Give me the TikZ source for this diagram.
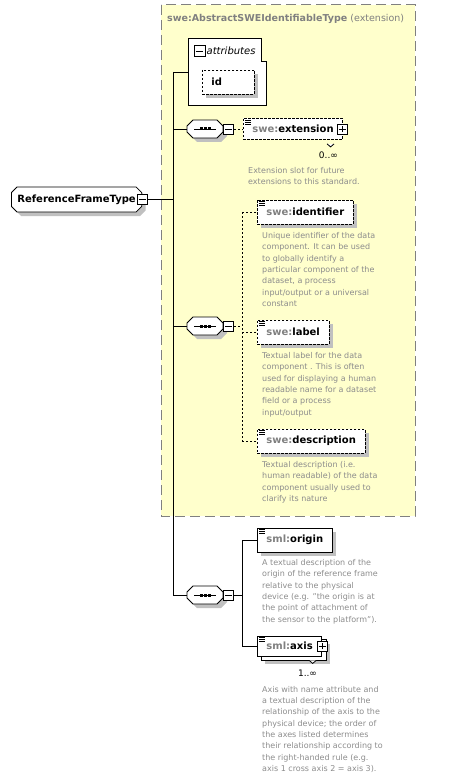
\documentclass[tikz,border=0pt]{standalone}
\usepackage{fontspec}
\setmainfont{DejaVu Sans}
\usetikzlibrary{positioning,shapes.misc,shadows}

\definecolor{extyellow}{RGB}{255,255,204}
\definecolor{extgray}{RGB}{128,128,128}
\definecolor{docgray}{RGB}{140,140,140}
\definecolor{shadowgray}{RGB}{192,192,192}

\pgfdeclarelayer{behind}
\pgfsetlayers{behind,main}

% small marks drawn inside nodes
\newcommand{\minusmark}[1]{\draw ([xshift=2pt]#1.west) -- ([xshift=-2pt]#1.east);}
\newcommand{\plusmark}[1]{\minusmark{#1}\draw ([yshift=2pt]#1.south) -- ([yshift=-2pt]#1.north);}
\newcommand{\simpleicon}[1]{%
  \foreach \dy in {2,4,6}
    \draw[line width=0.7pt] ([xshift=2pt,yshift=-\dy pt]#1.north west) -- ++(6,0);}
\def\octpath{(-18,-3) -- (-12,-9) -- (12,-9) -- (18,-3) -- (18,3) -- (12,9) -- (-12,9) -- (-18,3) -- cycle}
\newcommand{\seqshape}[1]{%
  \begin{scope}[shift={(#1.center)}]
    \fill[shadowgray, shift={(4,4)}] \octpath;
    \filldraw[line width=0.8pt, fill=white] \octpath;
    \draw (-11,0) -- (11,0);
    \foreach \dx in {-4,0,4}
      \fill (\dx-1.5,-1.5) rectangle ++(3,3);
  \end{scope}}

\begin{document}
\begin{tikzpicture}[x=1pt, y=-1pt,
    every node/.style={font=\fontsize{10}{12}\selectfont},
    boxshadow/.style={drop shadow={shadow xshift=4pt, shadow yshift=-4pt, fill=shadowgray, opacity=1}},
    optdash/.style={dash pattern=on 2.5pt off 1.5pt},
    box/.style={draw, fill=white, line width=0.8pt, minimum height=24pt,
        inner xsep=9pt, inner ysep=0pt, anchor=west,
        font=\fontsize{10}{12}\selectfont\bfseries},
    elem/.style={box, boxshadow},
    optelem/.style={elem, optdash},
    backbox/.style={draw, fill=white, line width=0.8pt, boxshadow},
    compositor/.style={minimum width=36pt, minimum height=18pt, inner sep=0pt},
    pmbox/.style={draw, fill=white, line width=0.9pt, minimum size=10pt, inner sep=0pt},
    doc/.style={anchor=north west, align=left, inner sep=0pt, text=docgray,
        font=\fontsize{8}{11.3}\selectfont},
    occurs/.style={anchor=north east, inner sep=0pt, font=\fontsize{9}{11}\selectfont},
    link/.style={line width=0.8pt},
    optlink/.style={link, dash pattern=on 2pt off 2pt}
]
\useasboundingbox (0,0) rectangle (458,778);

% extension base type
\draw[draw=extgray, fill=extyellow, line width=1pt, dash pattern=on 10pt off 5pt]
    (161,5) rectangle (415,516);
\node[anchor=west, inner sep=0pt, text=extgray, font=\fontsize{9.5}{12}\selectfont] (exthead) at (167,19)
    {\textbf{swe:AbstractSWEIdentifiableType} (extension)};

% attributes group
\node[inner sep=0pt, minimum width=78pt, minimum height=67pt, anchor=north west] (attr) at (188,38) {};
\filldraw[link, fill=white] (attr.north west) -- ([xshift=-5pt]attr.north east) -- ++(0,23)
    -- ([yshift=-23pt]attr.north east) -- (attr.south east) -- (attr.south west) -- cycle;
\node[pmbox, minimum size=11pt] (attrm) at (199.5,51) {};
\minusmark{attrm}
\node[right=1pt of attrm, inner sep=0pt, font=\fontsize{10}{12}\selectfont\itshape] (attrlabel) {attributes};
\node[optelem, text width=34pt] (idattr) at (202,82) {id};

% root
\node[chamfered rectangle, chamfered rectangle xsep=2pt, draw, fill=white, line width=0.8pt,
    minimum height=25pt, anchor=west, inner xsep=4pt, boxshadow,
    font=\fontsize{10}{12}\selectfont\bfseries] (root) at (11,199.5) {ReferenceFrameType\hspace{9pt}};
\node[pmbox] (rootm) at (root.east) {};
\minusmark{rootm}
\coordinate (trunk) at (173,72);
\draw[link] (trunk) -- (attr.west |- trunk);
\draw[link] (rootm.east) -- (rootm.east -| trunk);

% first sequence: extension
\node[compositor] (seq1) at (205,129) {};
\seqshape{seq1}
\node[pmbox, anchor=west] (seq1m) at (seq1.east) {};
\minusmark{seq1m}
\draw[link] (trunk |- seq1.west) -- (seq1.west);
\node[box, optdash, minimum height=21pt] (extn) at (243,129)
    {\textcolor{extgray}{swe:}extension\hspace{5pt}};
\coordinate (extnback) at ([shift={(4pt,-4pt)}]extn.south east);
\begin{pgfonlayer}{behind}
  \draw[backbox, optdash] ([shift={(4pt,-4pt)}]extn.north west) rectangle (extnback);
\end{pgfonlayer}
\draw[link, fill=white] ([xshift=-20pt]extnback) -- ++(3.5,3) -- ++(3.5,-3);
\simpleicon{extn}
\node[pmbox] (extnp) at ([xshift=-1pt]extn.east) {};
\plusmark{extnp}
\draw[optlink] (seq1m.east) -- (extn.west);
\node[occurs] (extnocc) at ([shift={(-9pt,-8pt)}]extnback) {0..∞};
\node[doc] (extndoc) at (248,167) {Extension slot for future\\extensions to this standard.};

% second sequence: identifier, label, description
\node[compositor] (seq2) at (205,326) {};
\seqshape{seq2}
\node[pmbox, anchor=west] (seq2m) at (seq2.east) {};
\minusmark{seq2m}
\draw[link] (trunk |- seq2.west) -- (seq2.west);
\coordinate (br2) at (242,326);
\draw[optlink] (seq2m.east) -- (br2);
\node[optelem] (ident) at (257,212) {\textcolor{extgray}{swe:}identifier};
\node[optelem] (lbl) at (257,332) {\textcolor{extgray}{swe:}label};
\node[optelem] (descr) at (257,441) {\textcolor{extgray}{swe:}description};
\draw[optlink] (br2 |- ident.west) -- (br2 |- descr.west);
\foreach \n in {ident,lbl,descr} {
  \draw[optlink] (br2 |- \n.west) -- (\n.west);
  \simpleicon{\n}
}
\node[doc] (identdoc) at ([shift={(5pt,-8pt)}]ident.south west) {Unique identifier of the data\\
    component. It can be used\\to globally identify a\\particular component of the\\
    dataset, a process\\input/output or a universal\\constant};
\node[doc] (lbldoc) at ([shift={(5pt,-8pt)}]lbl.south west) {Textual label for the data\\
    component . This is often\\used for displaying a human\\readable name for a dataset\\
    field or a process\\input/output};
\node[doc] (descrdoc) at ([shift={(5pt,-8pt)}]descr.south west) {Textual description (i.e.\\
    human readable) of the data\\component usually used to\\clarify its nature};

% third sequence: origin, axis
\node[compositor] (seq3) at (205,595) {};
\seqshape{seq3}
\node[pmbox, anchor=west] (seq3m) at (seq3.east) {};
\minusmark{seq3m}
\draw[link] (trunk) |- (seq3.west);
\coordinate (br3) at (242,595);
\draw[link] (seq3m.east) -- (br3);
\node[elem] (origin) at (257,540) {\textcolor{extgray}{sml:}origin};
\node[box, minimum height=20pt] (axis) at (257,646) {\textcolor{extgray}{sml:}axis\hspace{1pt}};
\coordinate (axisback) at ([shift={(4pt,-4pt)}]axis.south east);
\begin{pgfonlayer}{behind}
  \draw[backbox] ([shift={(4pt,-4pt)}]axis.north west) rectangle (axisback);
\end{pgfonlayer}
\draw[link, fill=white] ([xshift=-17pt]axisback) -- ++(3.5,3) -- ++(3.5,-3);
\node[pmbox] (axisp) at (axis.east) {};
\plusmark{axisp}
\draw[link] (br3 |- origin.west) -- (br3 |- axis.west);
\foreach \n in {origin,axis} {
  \draw[link] (br3 |- \n.west) -- (\n.west);
  \simpleicon{\n}
}
\node[occurs] (axisocc) at ([shift={(-9pt,-9pt)}]axisback) {1..∞};
\node[doc] (origindoc) at ([shift={(5pt,-7pt)}]origin.south west) {A textual description of the\\
    origin of the reference frame\\relative to the physical\\device (e.g. "the origin is at\\
    the point of attachment of\\the sensor to the platform").};
\node[doc] (axisdoc) at (262,686) {Axis with name attribute and\\a textual description of the\\
    relationship of the axis to the\\physical device; the order of\\the axes listed determines\\
    their relationship according to\\the right-handed rule (e.g.\\axis 1 cross axis 2 = axis 3).};
\end{tikzpicture}
\end{document}
